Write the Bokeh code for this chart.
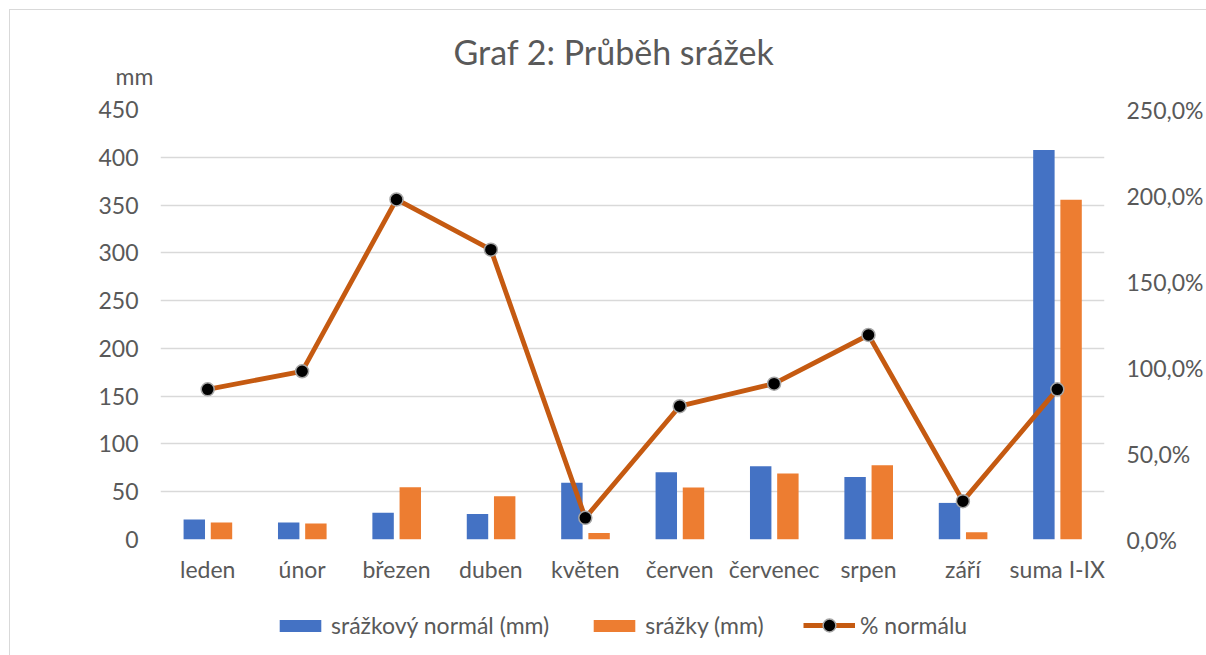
from bokeh.plotting import figure
from bokeh.models import (Range1d, LinearAxis, FactorRange, Title, Legend, LegendItem,
                          ColumnDataSource, FixedTicker)
from bokeh.layouts import column
from bokeh.transform import dodge
from bokeh.embed import file_html
from bokeh.resources import INLINE

months = ["leden", "únor", "březen", "duben", "květen", "červen", "červenec", "srpen", "září", "suma I-IX"]
normal_mm = [20.9, 17.8, 28.0, 26.8, 59.5, 70.3, 76.6, 65.4, 38.3, 407.5]
srazky_mm = [17.8, 16.7, 54.6, 45.2, 6.9, 54.3, 69.0, 77.6, 7.6, 355.6]
pct_normal = [87.3, 97.8, 197.7, 168.5, 12.6, 77.5, 90.6, 118.9, 22.3, 87.3]
left_ticks = [0, 50, 100, 150, 200, 250, 300, 350, 400, 450]
right_ticks = [0, 50, 100, 150, 200, 250]
right_tick_labels = ["0,0%", "50,0%", "100,0%", "150,0%", "200,0%", "250,0%"]

FONT = "Lato"
TXT = "#595959"
BLUE, ORANGE, LINE = "#4472C4", "#ED7D31", "#C55A11"

src = ColumnDataSource(dict(m=months, normal=normal_mm, srazky=srazky_mm, pct=pct_normal))

W, H1, H2 = 1196, 580, 65

p = figure(x_range=FactorRange(factors=months, range_padding=0, factor_padding=0),
           y_range=Range1d(0, 450), width=W, height=H1,
           output_backend="svg", toolbar_location=None, title=None,
           min_border_left=150, min_border_right=98, min_border_top=99, min_border_bottom=H1 - 99 - 430)
p.extra_y_ranges = {"pct": Range1d(0, 250)}
p.outline_line_color = None
p.background_fill_color = "white"
p.border_fill_color = "white"

b1 = p.vbar(x=dodge("m", -0.142, range=p.x_range), top="normal", width=0.227, source=src,
            fill_color=BLUE, line_color=None)
b2 = p.vbar(x=dodge("m", 0.146, range=p.x_range), top="srazky", width=0.227, source=src,
            fill_color=ORANGE, line_color=None)
ln = p.line(x="m", y="pct", source=src, y_range_name="pct", line_width=4.8, line_color=LINE)
sc = p.scatter(x="m", y="pct", source=src, y_range_name="pct", size=13, fill_color="black",
               line_color="#A6A6A6", line_width=1.5)

p.yaxis.ticker = FixedTicker(ticks=left_ticks)
ra = LinearAxis(y_range_name="pct", ticker=FixedTicker(ticks=right_ticks))
ra.major_label_overrides = {t: l for t, l in zip(right_ticks, right_tick_labels)}
p.add_layout(ra, "right")

for ax in [p.xaxis[0], p.yaxis[0], ra]:
    ax.axis_line_color = None
    ax.major_tick_line_color = None
    ax.minor_tick_line_color = None
    ax.major_tick_out = 0
    ax.major_tick_in = 0
    ax.major_label_text_font = FONT
    ax.major_label_text_font_size = "23px"
    ax.major_label_text_color = TXT
p.yaxis[0].major_label_standoff = 22
ra.major_label_standoff = 22
p.xaxis[0].major_label_standoff = 15

p.xgrid.grid_line_color = None
p.ygrid.grid_line_color = "#D9D9D9"
p.ygrid.grid_line_width = 1.3
p.ygrid.ticker = FixedTicker(ticks=left_ticks)

mm = Title(text="mm", align="left", offset=-45, standoff=39, text_font=FONT,
           text_font_size="23px", text_font_style="normal", text_color=TXT)
p.add_layout(mm, "above")
title = Title(text="Graf 2: Průběh srážek", align="left", offset=293, standoff=-63, text_font=FONT,
              text_font_size="34px", text_font_style="normal", text_color=TXT)
p.add_layout(title, "above")

# legend strip below the chart (its frame is aligned with the chart frame)
q = figure(x_range=Range1d(0, 948), y_range=Range1d(0, H2), width=W, height=H2,
           output_backend="svg", toolbar_location=None, min_border=0)
q.axis.visible = False
q.grid.visible = False
q.outline_line_color = None
q.background_fill_color = "white"
q.border_fill_color = "white"
e = ColumnDataSource(dict(x=[-5000], y=[-5000]))
lb1 = q.vbar(x="x", top="y", width=1, source=e, fill_color=BLUE, line_color=None)
lb2 = q.vbar(x="x", top="y", width=1, source=e, fill_color=ORANGE, line_color=None)
lln = q.line(x="x", y="y", source=e, line_width=4.8, line_color=LINE)
lsc = q.scatter(x="x", y="y", source=e, size=13, fill_color="black", line_color="#A6A6A6", line_width=1.5)

common = dict(orientation="horizontal", glyph_width=52, label_standoff=5, spacing=39, padding=0,
              margin=0, border_line_color=None, background_fill_alpha=0, label_text_font=FONT,
              label_text_font_size="23px", label_text_color=TXT, label_height=20)
legend1 = Legend(items=[LegendItem(label="srážkový normál (mm)", renderers=[lb1]),
                        LegendItem(label="srážky (mm)", renderers=[lb2])],
                 location=(114, 16), glyph_height=15, **common)
legend2 = Legend(items=[LegendItem(label="% normálu", renderers=[lln, lsc])],
                 location=(643, 14), glyph_height=32, **common)
q.add_layout(legend1, "center")
q.add_layout(legend2, "center")

lay = column(p, q, spacing=0)
lay.styles = {"margin-left": "9px", "margin-top": "9px",
              "border-left": "1px solid #D9D9D9", "border-top": "1px solid #D9D9D9"}

open("out.html", "w").write(file_html(lay, INLINE))
